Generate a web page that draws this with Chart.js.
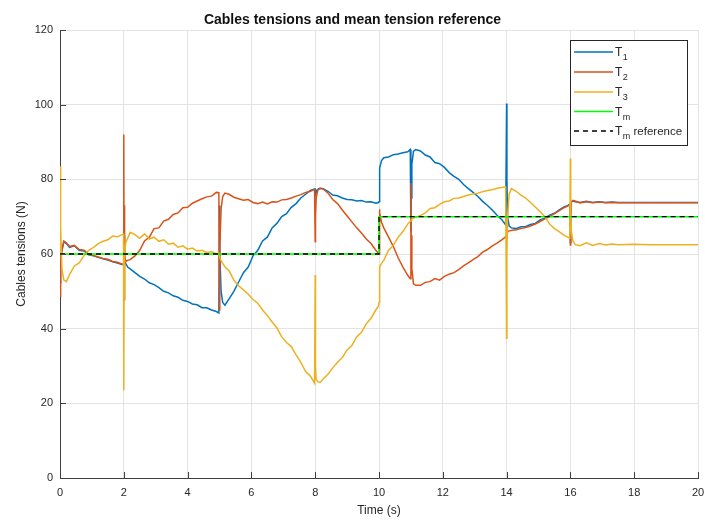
<!DOCTYPE html>
<html>
<head>
<meta charset="utf-8">
<script src="https://cdn.jsdelivr.net/npm/chart.js@4.4.1/dist/chart.umd.min.js"></script>
<style>
  html, body { margin: 0; padding: 0; background: #ffffff; }
  #wrap { width: 705px; height: 522px; }
</style>
</head>
<body>
<div id="wrap"><canvas id="c" width="705" height="522"></canvas></div>
<script>
// ---------------- DATA ----------------
const chartTitle = 'Cables tensions and mean tension reference';
const xAxisLabel = 'Time (s)';
const yAxisLabel = 'Cables tensions (N)';

const timeS = [
  0, 0.01, 0.02, 0.03, 0.06, 0.12, 0.2, 0.3, 0.45, 0.6, 0.75, 0.9, 1.05, 1.2, 1.35, 1.5, 1.65, 1.8, 1.95,
  1.99, 2.0, 2.01, 2.02, 2.03, 2.06, 2.12,
  2.2, 2.35, 2.5, 2.65, 2.8, 2.95, 3.1, 3.25, 3.4, 3.55, 3.7, 3.85, 4.0, 4.15, 4.3, 4.45, 4.6, 4.75, 4.9, 4.98,
  5.0, 5.01, 5.05, 5.1, 5.17,
  5.3, 5.45, 5.6, 5.75, 5.9, 6.05, 6.2, 6.35, 6.5, 6.65, 6.8, 6.95, 7.1, 7.25, 7.4, 7.55, 7.7, 7.85, 7.98,
  8.0, 8.01, 8.03, 8.08, 8.15,
  8.25, 8.4, 8.55, 8.7, 8.85, 9.0, 9.15, 9.3, 9.45, 9.6, 9.75, 9.9, 9.98,
  10.0, 10.01, 10.03, 10.08, 10.15,
  10.3, 10.45, 10.6, 10.75, 10.9, 10.98,
  11.0, 11.01, 11.03, 11.08, 11.15,
  11.3, 11.45, 11.6, 11.75, 11.9, 12.05, 12.2, 12.35, 12.5, 12.65, 12.8, 12.95, 13.1, 13.25, 13.4, 13.55, 13.7, 13.85, 13.97,
  14.0, 14.01, 14.03, 14.08, 14.15,
  14.3, 14.45, 14.6, 14.75, 14.9, 15.05, 15.2, 15.35, 15.5, 15.65, 15.8, 15.92, 15.98,
  16.0, 16.01, 16.03, 16.08, 16.15,
  16.3, 16.5, 16.7, 16.9, 17.1, 17.3, 17.5, 18, 18.5, 19, 19.5, 20
];

const tension1 = [
  60, 58, 52, 59, 61, 63.3, 62.8, 61.8, 62.2, 61, 60.8, 59.8, 59.5, 59.1, 58.7, 58.4, 57.9, 57.6, 57.2,
  57.1, 57, 65, 60, 58, 57.5, 56.5,
  56, 55, 54, 53.3, 52.3, 51.8, 51, 50, 49.6, 48.8, 48.4, 47.6, 47.3, 46.6, 46.4, 45.6, 45.6, 45.0, 44.6, 44.2,
  73, 60, 50, 47, 46.3,
  48, 50, 52.5, 55, 56.5, 59.5, 61, 63.5, 64.5, 67, 68.2, 70, 70.8, 72.5, 73.5, 75, 76, 77, 77.4,
  77.4, 76, 76.5, 77.3, 77.6,
  77.5, 76.8, 75.8, 75.6, 75, 74.6, 74.5, 74.2, 74.3, 73.9, 74, 73.6, 73.8,
  74, 79, 83, 85, 85.8,
  86, 86.6, 86.8, 87.1, 87.4, 88,
  66, 75, 84, 87.5, 88,
  87.6, 86.5, 86, 84.5, 84.2, 83.2, 81.8, 80.8, 80, 78.6, 77.5, 76.5, 75.4, 74.1, 73, 71.8, 70.4, 69.2, 67.8,
  100.3, 80, 70, 67.5, 67,
  66.8, 67.3, 67.4, 67.9, 68.2, 69.1, 69.6, 70.4, 70.9, 71.8, 72.6, 73, 73.3,
  63, 70, 74, 74.2, 74,
  73.8, 74.1, 73.8, 74, 73.8, 73.9, 73.8, 73.8, 73.8, 73.8, 73.8, 73.8
];

const tension2 = [
  60, 56, 48.5, 58, 61, 63.5, 63, 62, 62.3, 61.2, 61, 60, 59.6, 59.2, 58.8, 58.6, 58.0, 57.8, 57.3,
  57.2, 92, 47.7, 73, 60, 58, 58.3,
  58.5, 59.5, 61, 63.5, 64.5, 66.8, 67, 68.8, 69.3, 70.6, 71, 72.4, 72.5, 73.6, 74.2, 74.8, 75.3, 75.5, 76.5, 76.4,
  45, 62, 72, 75.4, 76.3,
  76, 75.2, 74.8, 74.4, 74.6, 73.8, 73.5, 73.9, 73.4, 74, 73.9, 74.5, 74.6, 75.0, 75.5, 75.9, 76.5, 76.8, 77.3,
  63.3, 70, 75, 77, 77.6,
  77.4, 76.3, 74.6, 73.5, 71.8, 70.2, 68.6, 67.0, 65.6, 64, 62.8, 61, 60.2,
  60, 72, 71, 68.5, 67,
  64.5, 62, 59, 56.5, 54.3, 53.4,
  79, 65, 56, 52, 51.6,
  51.6, 52.4, 52.6, 53.4, 53, 54, 54.6, 55, 55.8, 56.8, 57.6, 58.5, 59.3, 60.5, 61.2, 62.2, 62.9, 63.8, 64.6,
  65, 64, 66, 66.2, 66.3,
  66.5, 66.8, 67.1, 67.5, 68.0, 68.7, 69.4, 70.0, 70.8, 71.6, 72.4, 72.9, 73.2,
  62.4, 70, 74, 74.4, 74.2,
  73.7, 74, 73.7, 73.9, 73.7, 73.8, 73.7, 73.7, 73.7, 73.7, 73.7, 73.7
];

const tension3 = [
  60, 83.5, 61, 67, 56, 53, 52.6, 54.5, 56.8, 57.6, 59.5, 61, 61.8, 62.8, 63.4, 63.8, 64.8, 64.6, 65.2,
  65.3, 23.5, 52, 48, 60, 63, 64.2,
  65.8, 65.2, 64.2, 65.4, 64.0, 64.5, 63.4, 63.8, 62.6, 62.9, 61.8, 62.2, 61.3, 61.6, 60.8, 61.0, 60.4, 60.6, 60.1, 60.3,
  59.5, 59, 58.2, 57.5, 56.6,
  55.5, 53, 51.5, 50.4, 49.2, 47.8, 46.8, 45, 43.5, 41.8, 40.2, 37.8, 36.3, 35.2, 33.0, 31.0, 28.5, 27.3, 25.4,
  54.4, 30, 26.5, 25.8, 25.6,
  26.5, 27.8, 29.5, 31, 32.3, 34.3, 35.5, 37.8, 39, 41.3, 42.8, 45, 46,
  47, 55, 56.6, 57.5, 58.3,
  61, 62.3, 64.5, 66, 68, 68.8,
  69, 69.2, 69.4, 69.6, 69.8,
  70.3, 71, 72.2, 72.4, 73.3, 74, 74.2, 74.9, 75, 75.4, 75.8, 76.1, 76.3, 76.7, 77, 77.2, 77.6, 77.8, 78,
  37.4, 60, 70, 76, 77.5,
  76.8, 75.8, 75.0, 73.8, 72.6, 71.3, 70, 68, 66.8, 66, 65, 64.5, 64.2,
  85.6, 72, 66, 63.5, 62.5,
  62.2, 63.0, 62.3, 62.8, 62.4, 62.7, 62.5, 62.6, 62.5, 62.5, 62.5, 62.5
];

const meanTime = [0, 10, 10, 20];
const meanTension = [60, 60, 70, 70];
const refTime = [0, 10, 10, 20];
const refTension = [60, 60, 70, 70];

const xTicks = [0, 2, 4, 6, 8, 10, 12, 14, 16, 18, 20];
const yTicks = [0, 20, 40, 60, 80, 100, 120];

// legend label parts: [main, subscript, suffix]
const legendLabels = [['T', '1', ''], ['T', '2', ''], ['T', '3', ''], ['T', 'm', ''], ['T', 'm', ' reference']];

// ---------------- BUILD ----------------
function pts(xs, ys) { return xs.map((x, i) => ({ x: x, y: ys[i] })); }

const FONT = '"Liberation Sans", Arial, Helvetica, sans-serif';
const AXIS_COLOR = '#404040';
const TEXT_COLOR = '#262626';

const datasets = [
  { label: 'T1', data: pts(timeS, tension1), borderColor: '#0072BD', borderWidth: 1.5, order: 5 },
  { label: 'T2', data: pts(timeS, tension2), borderColor: '#D95319', borderWidth: 1.5, order: 4 },
  { label: 'T3', data: pts(timeS, tension3), borderColor: '#EDB120', borderWidth: 1.5, order: 3 },
  { label: 'Tm', data: pts(meanTime, meanTension), borderColor: '#00FF00', borderWidth: 1.5, order: 2 },
  { label: 'Tm reference', data: pts(refTime, refTension), borderColor: '#000000', borderWidth: 1.3, borderDash: [5, 4], order: 1 }
];
datasets.forEach(d => { d.pointRadius = 0; d.fill = false; d.tension = 0; d.backgroundColor = d.borderColor; });

// inward ticks (MATLAB style)
const inwardTicks = {
  id: 'inwardTicks',
  afterDatasetsDraw(chart) {
    const { ctx, chartArea: a, scales: { x, y } } = chart;
    ctx.save();
    ctx.strokeStyle = AXIS_COLOR;
    ctx.lineWidth = 1;
    ctx.beginPath();
    xTicks.forEach(v => {
      const px = Math.round(x.getPixelForValue(v)) + 0.5;
      ctx.moveTo(px, a.bottom); ctx.lineTo(px, a.bottom - 6);
    });
    yTicks.forEach(v => {
      const py = Math.round(y.getPixelForValue(v)) + 0.5;
      ctx.moveTo(a.left, py); ctx.lineTo(a.left + 6, py);
    });
    ctx.stroke();
    ctx.restore();
  }
};

// custom legend with subscripts
const subLegend = {
  id: 'subLegend',
  afterDraw(chart) {
    const ctx = chart.ctx;
    const bx = 570.5, by = 40.5, bw = 117, bh = 105;
    ctx.save();
    ctx.fillStyle = '#ffffff';
    ctx.fillRect(bx, by, bw, bh);
    ctx.strokeStyle = '#262626';
    ctx.lineWidth = 1;
    ctx.strokeRect(bx, by, bw, bh);
    const rows = [52, 72, 92, 111.5, 131];
    chart.data.datasets.forEach((ds, i) => {
      const yy = rows[i];
      ctx.beginPath();
      ctx.strokeStyle = ds.borderColor;
      ctx.lineWidth = ds.borderWidth;
      ctx.setLineDash(ds.borderDash || []);
      ctx.moveTo(574, yy); ctx.lineTo(613, yy);
      ctx.stroke();
      ctx.setLineDash([]);
      const [main, sub, suf] = legendLabels[i];
      ctx.fillStyle = TEXT_COLOR;
      ctx.textBaseline = 'alphabetic';
      ctx.textAlign = 'left';
      ctx.font = '12px ' + FONT;
      let tx = 615;
      ctx.fillText(main, tx, yy + 4);
      tx += ctx.measureText(main).width + 0.5;
      ctx.font = '9px ' + FONT;
      ctx.fillText(sub, tx, yy + 8);
      tx += ctx.measureText(sub).width;
      if (suf) {
        ctx.font = '11.5px ' + FONT;
        ctx.fillText(suf, tx, yy + 4);
      }
    });
    ctx.restore();
  }
};

new Chart(document.getElementById('c'), {
  type: 'line',
  data: { datasets: datasets },
  options: {
    responsive: false,
    animation: false,
    devicePixelRatio: 1,
    layout: { padding: { left: 0, right: 0, top: 0, bottom: 0 } },
    plugins: {
      legend: { display: false },
      tooltip: { enabled: false },
      title: {
        display: true,
        text: chartTitle,
        color: '#111111',
        font: { family: FONT, size: 14, weight: 'bold', lineHeight: 1.2 },
        padding: { top: 11.5, bottom: 1.7 }
      }
    },
    scales: {
      x: {
        type: 'linear',
        min: 0, max: 20,
        afterBuildTicks: s => { s.ticks = xTicks.map(v => ({ value: v })); },
        afterFit: s => { s.height = 44; s.paddingLeft = 0; s.paddingRight = 7; },
        ticks: { color: TEXT_COLOR, font: { family: FONT, size: 11 }, padding: 8, maxRotation: 0, autoSkip: false },
        grid: { color: '#e3e3e3', lineWidth: 1, drawTicks: false, tickLength: 0 },
        border: { display: true, color: AXIS_COLOR, width: 1 },
        title: { display: true, text: xAxisLabel, color: TEXT_COLOR, font: { family: FONT, size: 12 }, padding: { top: 0, bottom: 3.8 } }
      },
      y: {
        type: 'linear',
        min: 0, max: 120,
        afterBuildTicks: s => { s.ticks = yTicks.map(v => ({ value: v })); },
        afterFit: s => { s.width = 60; },
        ticks: { color: TEXT_COLOR, font: { family: FONT, size: 11 }, padding: 7 },
        grid: { color: '#e3e3e3', lineWidth: 1, drawTicks: false, tickLength: 0 },
        border: { display: true, color: AXIS_COLOR, width: 1 },
        title: { display: true, text: yAxisLabel, color: TEXT_COLOR, font: { family: FONT, size: 12 }, padding: { top: 14, bottom: 0 } }
      }
    }
  },
  plugins: [inwardTicks, subLegend]
});
</script>
</body>
</html>
